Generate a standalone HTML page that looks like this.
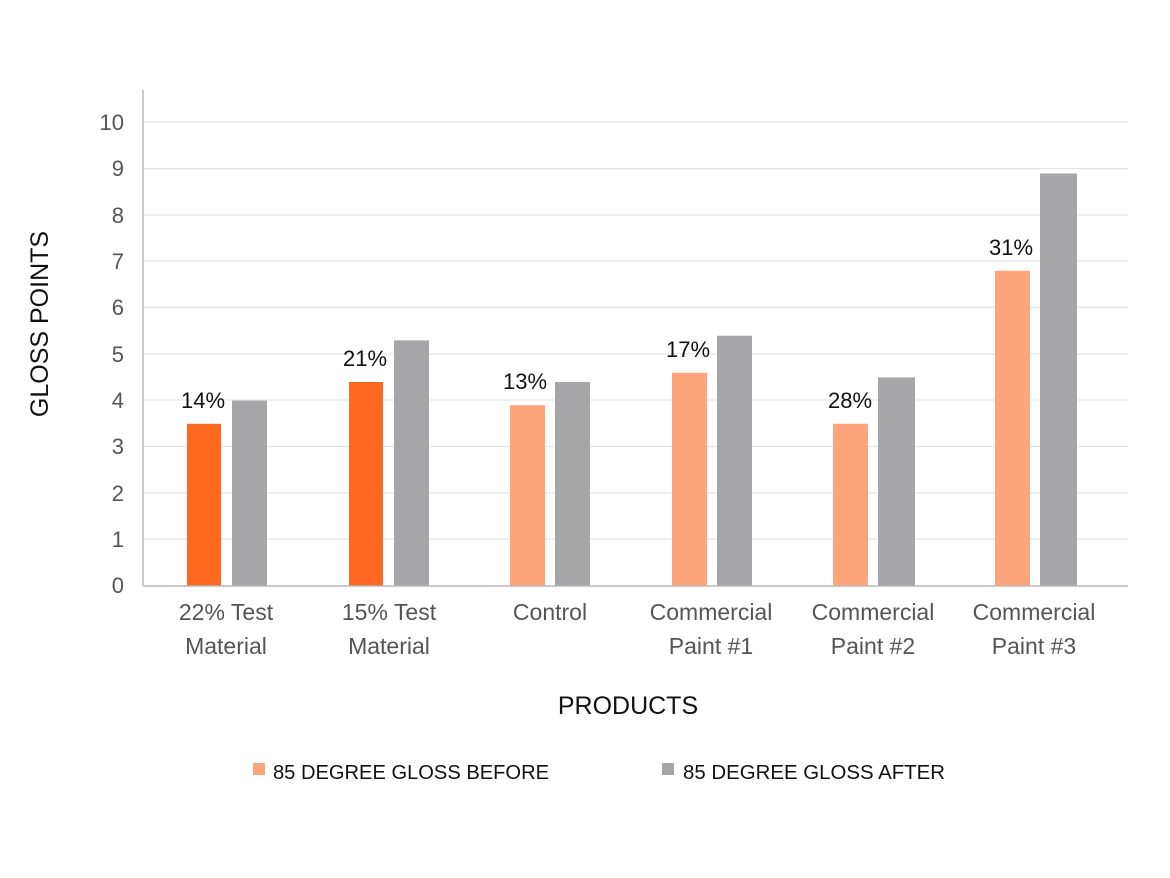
<!DOCTYPE html>
<html><head><meta charset="utf-8"><style>body{margin:0;background:#fff}svg{display:block}</style></head><body>
<svg width="1170" height="878" xmlns="http://www.w3.org/2000/svg" font-family="Liberation Sans, sans-serif">
<g stroke="#e6e6e6" stroke-width="1.3">
<line x1="143" x2="1128" y1="122" y2="122"/><line x1="143" x2="1128" y1="168.6" y2="168.6"/><line x1="143" x2="1128" y1="215" y2="215"/><line x1="143" x2="1128" y1="261" y2="261"/><line x1="143" x2="1128" y1="307.5" y2="307.5"/><line x1="143" x2="1128" y1="354" y2="354"/><line x1="143" x2="1128" y1="400" y2="400"/><line x1="143" x2="1128" y1="446.5" y2="446.5"/><line x1="143" x2="1128" y1="493" y2="493"/><line x1="143" x2="1128" y1="539" y2="539"/>
</g>
<g font-size="22" fill="#555" text-anchor="end">
<text x="124" y="130">10</text><text x="124" y="176">9</text><text x="124" y="223">8</text><text x="124" y="269">7</text><text x="124" y="315">6</text><text x="124" y="362">5</text><text x="124" y="408">4</text><text x="124" y="454">3</text><text x="124" y="501">2</text><text x="124" y="547">1</text><text x="124" y="593">0</text>
</g>
<!-- bars: center c, orange c-39, gray c+6, width 35, 46.35px/unit, base 586 -->
<rect x="187" y="423.8" width="34" height="162.2" fill="#ff6820"/><rect x="232" y="400.6" width="35" height="185.4" fill="#a6a6a8"/>
<rect x="349" y="382" width="34" height="204" fill="#ff6820"/><rect x="394" y="340.4" width="35" height="245.6" fill="#a6a6a8"/>
<rect x="510" y="405.2" width="35" height="180.8" fill="#ffa57c"/><rect x="555" y="382" width="35" height="204" fill="#a6a6a8"/>
<rect x="672" y="372.8" width="35" height="213.2" fill="#ffa57c"/><rect x="717" y="335.7" width="35" height="250.3" fill="#a6a6a8"/>
<rect x="833" y="423.8" width="35" height="162.2" fill="#ffa57c"/><rect x="878" y="377.4" width="37" height="208.6" fill="#a6a6a8"/>
<rect x="995" y="270.8" width="35" height="315.2" fill="#ffa57c"/><rect x="1040" y="173.5" width="37" height="412.5" fill="#a6a6a8"/>
<line x1="143" y1="90" x2="143" y2="586" stroke="#b8b8b8" stroke-width="1.5"/>
<line x1="143" y1="586" x2="1128" y2="586" stroke="#b8b8b8" stroke-width="1.5"/>
<g font-size="22" fill="#111" text-anchor="middle">
<text x="203" y="408">14%</text><text x="365" y="366">21%</text><text x="525" y="389">13%</text><text x="688" y="357">17%</text><text x="850" y="408">28%</text><text x="1011" y="255">31%</text>
</g>
<g font-size="23" fill="#555" text-anchor="middle">
<text x="226" y="620">22% Test</text><text x="226" y="654">Material</text>
<text x="389" y="620">15% Test</text><text x="389" y="654">Material</text>
<text x="550" y="620">Control</text>
<text x="711" y="620">Commercial</text><text x="711" y="654">Paint #1</text>
<text x="873" y="620">Commercial</text><text x="873" y="654">Paint #2</text>
<text x="1034" y="620">Commercial</text><text x="1034" y="654">Paint #3</text>
</g>
<text x="628" y="714" font-size="25" fill="#111" text-anchor="middle">PRODUCTS</text>
<text transform="translate(48,324) rotate(-90)" font-size="25" fill="#111" text-anchor="middle">GLOSS POINTS</text>
<rect x="253" y="763" width="12" height="12" fill="#ffa57c"/>
<text x="273" y="779" font-size="20" fill="#111" textLength="276" lengthAdjust="spacingAndGlyphs">85 DEGREE GLOSS BEFORE</text>
<rect x="662" y="763" width="12" height="12" fill="#a6a6a8"/>
<text x="683" y="779" font-size="20" fill="#111" textLength="262" lengthAdjust="spacingAndGlyphs">85 DEGREE GLOSS AFTER</text>
</svg>
</body></html>
